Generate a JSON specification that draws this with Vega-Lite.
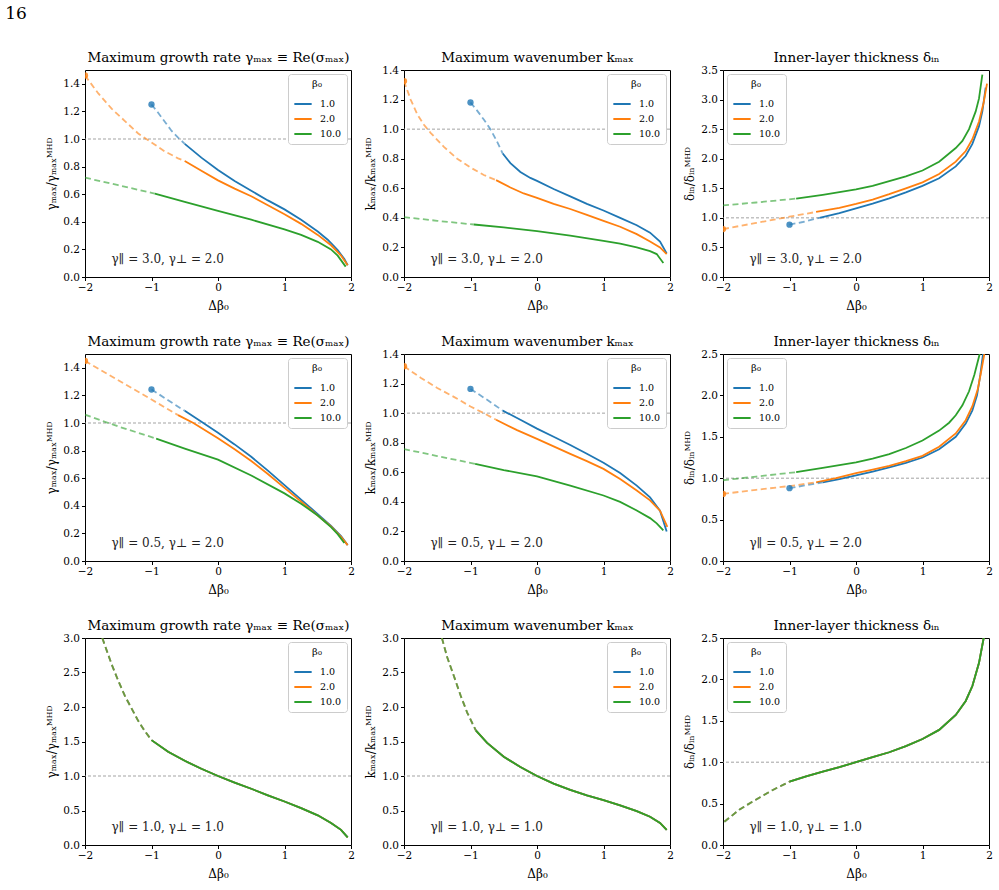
{
"$schema":"https://vega.github.io/schema/vega-lite/v6.json",
"padding":{"left":5,"top":5,"right":5,"bottom":5},
"background":"#ffffff",
"title":{"text":"16","anchor":"start","frame":"bounds","fontSize":17,"font":"DejaVu Serif","fontWeight":"normal","color":"#000","dx":-40,"offset":14,"baseline":"alphabetic"},
"datasets":{
"refs":[{"y":1}],
"dots":[
{"p":"11","b":"1.0","x":-1,"y":1.25},{"p":"11","b":"2.0","x":-2,"y":1.46},
{"p":"12","b":"1.0","x":-1,"y":1.18},{"p":"12","b":"2.0","x":-2,"y":1.325},
{"p":"13","b":"1.0","x":-1,"y":0.885},{"p":"13","b":"2.0","x":-2,"y":0.81},
{"p":"21","b":"1.0","x":-1,"y":1.243},{"p":"21","b":"2.0","x":-2,"y":1.45},
{"p":"22","b":"1.0","x":-1,"y":1.164},{"p":"22","b":"2.0","x":-2,"y":1.317},
{"p":"23","b":"1.0","x":-1,"y":0.88},{"p":"23","b":"2.0","x":-2,"y":0.81}
],
"curves":[
{"p":"11","b":"1.0","s":"d","x":-1,"y":1.25},{"p":"11","b":"1.0","s":"d","x":-0.9,"y":1.19},{"p":"11","b":"1.0","s":"d","x":-0.8,"y":1.125},{"p":"11","b":"1.0","s":"d","x":-0.7,"y":1.06},{"p":"11","b":"1.0","s":"d","x":-0.6,"y":1.01},{"p":"11","b":"1.0","s":"d","x":-0.5,"y":0.965},
{"p":"11","b":"1.0","s":"s","x":-0.5,"y":0.965},{"p":"11","b":"1.0","s":"s","x":-0.25,"y":0.865},{"p":"11","b":"1.0","s":"s","x":0,"y":0.775},{"p":"11","b":"1.0","s":"s","x":0.25,"y":0.695},{"p":"11","b":"1.0","s":"s","x":0.5,"y":0.625},{"p":"11","b":"1.0","s":"s","x":0.75,"y":0.555},{"p":"11","b":"1.0","s":"s","x":1,"y":0.49},{"p":"11","b":"1.0","s":"s","x":1.25,"y":0.415},{"p":"11","b":"1.0","s":"s","x":1.5,"y":0.33},{"p":"11","b":"1.0","s":"s","x":1.65,"y":0.27},{"p":"11","b":"1.0","s":"s","x":1.8,"y":0.195},{"p":"11","b":"1.0","s":"s","x":1.9,"y":0.13},{"p":"11","b":"1.0","s":"s","x":1.95,"y":0.085},
{"p":"11","b":"2.0","s":"d","x":-2,"y":1.46},{"p":"11","b":"2.0","s":"d","x":-1.8,"y":1.33},{"p":"11","b":"2.0","s":"d","x":-1.6,"y":1.22},{"p":"11","b":"2.0","s":"d","x":-1.4,"y":1.13},{"p":"11","b":"2.0","s":"d","x":-1.2,"y":1.04},{"p":"11","b":"2.0","s":"d","x":-1,"y":0.975},{"p":"11","b":"2.0","s":"d","x":-0.8,"y":0.91},{"p":"11","b":"2.0","s":"d","x":-0.6,"y":0.86},{"p":"11","b":"2.0","s":"d","x":-0.5,"y":0.84},
{"p":"11","b":"2.0","s":"s","x":-0.5,"y":0.84},{"p":"11","b":"2.0","s":"s","x":-0.25,"y":0.77},{"p":"11","b":"2.0","s":"s","x":0,"y":0.7},{"p":"11","b":"2.0","s":"s","x":0.25,"y":0.64},{"p":"11","b":"2.0","s":"s","x":0.5,"y":0.585},{"p":"11","b":"2.0","s":"s","x":0.75,"y":0.52},{"p":"11","b":"2.0","s":"s","x":1,"y":0.455},{"p":"11","b":"2.0","s":"s","x":1.25,"y":0.385},{"p":"11","b":"2.0","s":"s","x":1.5,"y":0.305},{"p":"11","b":"2.0","s":"s","x":1.7,"y":0.23},{"p":"11","b":"2.0","s":"s","x":1.85,"y":0.155},{"p":"11","b":"2.0","s":"s","x":1.95,"y":0.085},
{"p":"11","b":"10.0","s":"d","x":-2,"y":0.72},{"p":"11","b":"10.0","s":"d","x":-1.5,"y":0.665},{"p":"11","b":"10.0","s":"d","x":-1,"y":0.61},{"p":"11","b":"10.0","s":"d","x":-0.95,"y":0.605},
{"p":"11","b":"10.0","s":"s","x":-0.95,"y":0.605},{"p":"11","b":"10.0","s":"s","x":-0.5,"y":0.545},{"p":"11","b":"10.0","s":"s","x":0,"y":0.48},{"p":"11","b":"10.0","s":"s","x":0.5,"y":0.415},{"p":"11","b":"10.0","s":"s","x":1,"y":0.345},{"p":"11","b":"10.0","s":"s","x":1.25,"y":0.305},{"p":"11","b":"10.0","s":"s","x":1.5,"y":0.255},{"p":"11","b":"10.0","s":"s","x":1.7,"y":0.2},{"p":"11","b":"10.0","s":"s","x":1.8,"y":0.155},{"p":"11","b":"10.0","s":"s","x":1.92,"y":0.075},

{"p":"12","b":"1.0","s":"d","x":-1,"y":1.18},{"p":"12","b":"1.0","s":"d","x":-0.9,"y":1.125},{"p":"12","b":"1.0","s":"d","x":-0.8,"y":1.065},{"p":"12","b":"1.0","s":"d","x":-0.7,"y":1.0},{"p":"12","b":"1.0","s":"d","x":-0.6,"y":0.915},{"p":"12","b":"1.0","s":"d","x":-0.515,"y":0.835},
{"p":"12","b":"1.0","s":"s","x":-0.515,"y":0.835},{"p":"12","b":"1.0","s":"s","x":-0.4,"y":0.77},{"p":"12","b":"1.0","s":"s","x":-0.25,"y":0.71},{"p":"12","b":"1.0","s":"s","x":-0.1,"y":0.67},{"p":"12","b":"1.0","s":"s","x":0,"y":0.65},{"p":"12","b":"1.0","s":"s","x":0.25,"y":0.595},{"p":"12","b":"1.0","s":"s","x":0.5,"y":0.545},{"p":"12","b":"1.0","s":"s","x":0.75,"y":0.495},{"p":"12","b":"1.0","s":"s","x":1,"y":0.45},{"p":"12","b":"1.0","s":"s","x":1.25,"y":0.4},{"p":"12","b":"1.0","s":"s","x":1.5,"y":0.35},{"p":"12","b":"1.0","s":"s","x":1.7,"y":0.3},{"p":"12","b":"1.0","s":"s","x":1.85,"y":0.24},{"p":"12","b":"1.0","s":"s","x":1.95,"y":0.16},
{"p":"12","b":"2.0","s":"d","x":-2,"y":1.325},{"p":"12","b":"2.0","s":"d","x":-1.9,"y":1.2},{"p":"12","b":"2.0","s":"d","x":-1.8,"y":1.1},{"p":"12","b":"2.0","s":"d","x":-1.7,"y":1.03},{"p":"12","b":"2.0","s":"d","x":-1.6,"y":0.975},{"p":"12","b":"2.0","s":"d","x":-1.4,"y":0.88},{"p":"12","b":"2.0","s":"d","x":-1.2,"y":0.8},{"p":"12","b":"2.0","s":"d","x":-1,"y":0.74},{"p":"12","b":"2.0","s":"d","x":-0.8,"y":0.69},{"p":"12","b":"2.0","s":"d","x":-0.615,"y":0.655},
{"p":"12","b":"2.0","s":"s","x":-0.615,"y":0.655},{"p":"12","b":"2.0","s":"s","x":-0.4,"y":0.605},{"p":"12","b":"2.0","s":"s","x":-0.2,"y":0.565},{"p":"12","b":"2.0","s":"s","x":0,"y":0.535},{"p":"12","b":"2.0","s":"s","x":0.25,"y":0.495},{"p":"12","b":"2.0","s":"s","x":0.5,"y":0.46},{"p":"12","b":"2.0","s":"s","x":0.75,"y":0.42},{"p":"12","b":"2.0","s":"s","x":1,"y":0.38},{"p":"12","b":"2.0","s":"s","x":1.25,"y":0.34},{"p":"12","b":"2.0","s":"s","x":1.5,"y":0.29},{"p":"12","b":"2.0","s":"s","x":1.7,"y":0.24},{"p":"12","b":"2.0","s":"s","x":1.85,"y":0.2},{"p":"12","b":"2.0","s":"s","x":1.95,"y":0.155},
{"p":"12","b":"10.0","s":"d","x":-2,"y":0.405},{"p":"12","b":"10.0","s":"d","x":-1.5,"y":0.38},{"p":"12","b":"10.0","s":"d","x":-0.95,"y":0.355},
{"p":"12","b":"10.0","s":"s","x":-0.95,"y":0.355},{"p":"12","b":"10.0","s":"s","x":-0.5,"y":0.335},{"p":"12","b":"10.0","s":"s","x":0,"y":0.31},{"p":"12","b":"10.0","s":"s","x":0.5,"y":0.28},{"p":"12","b":"10.0","s":"s","x":1,"y":0.245},{"p":"12","b":"10.0","s":"s","x":1.25,"y":0.225},{"p":"12","b":"10.0","s":"s","x":1.5,"y":0.2},{"p":"12","b":"10.0","s":"s","x":1.7,"y":0.175},{"p":"12","b":"10.0","s":"s","x":1.8,"y":0.155},{"p":"12","b":"10.0","s":"s","x":1.9,"y":0.095},

{"p":"13","b":"1.0","s":"d","x":-1,"y":0.885},{"p":"13","b":"1.0","s":"d","x":-0.8,"y":0.93},{"p":"13","b":"1.0","s":"d","x":-0.55,"y":1.0},
{"p":"13","b":"1.0","s":"s","x":-0.55,"y":1.0},{"p":"13","b":"1.0","s":"s","x":-0.25,"y":1.08},{"p":"13","b":"1.0","s":"s","x":0,"y":1.16},{"p":"13","b":"1.0","s":"s","x":0.25,"y":1.24},{"p":"13","b":"1.0","s":"s","x":0.5,"y":1.33},{"p":"13","b":"1.0","s":"s","x":0.75,"y":1.43},{"p":"13","b":"1.0","s":"s","x":1,"y":1.54},{"p":"13","b":"1.0","s":"s","x":1.25,"y":1.67},{"p":"13","b":"1.0","s":"s","x":1.5,"y":1.87},{"p":"13","b":"1.0","s":"s","x":1.65,"y":2.05},{"p":"13","b":"1.0","s":"s","x":1.75,"y":2.25},{"p":"13","b":"1.0","s":"s","x":1.85,"y":2.55},{"p":"13","b":"1.0","s":"s","x":1.9,"y":2.8},{"p":"13","b":"1.0","s":"s","x":1.95,"y":3.2},
{"p":"13","b":"2.0","s":"d","x":-2,"y":0.81},{"p":"13","b":"2.0","s":"d","x":-1.5,"y":0.915},{"p":"13","b":"2.0","s":"d","x":-1,"y":1.02},{"p":"13","b":"2.0","s":"d","x":-0.6,"y":1.1},
{"p":"13","b":"2.0","s":"s","x":-0.6,"y":1.1},{"p":"13","b":"2.0","s":"s","x":-0.25,"y":1.17},{"p":"13","b":"2.0","s":"s","x":0,"y":1.235},{"p":"13","b":"2.0","s":"s","x":0.25,"y":1.31},{"p":"13","b":"2.0","s":"s","x":0.5,"y":1.4},{"p":"13","b":"2.0","s":"s","x":0.75,"y":1.5},{"p":"13","b":"2.0","s":"s","x":1,"y":1.6},{"p":"13","b":"2.0","s":"s","x":1.25,"y":1.74},{"p":"13","b":"2.0","s":"s","x":1.5,"y":1.95},{"p":"13","b":"2.0","s":"s","x":1.65,"y":2.13},{"p":"13","b":"2.0","s":"s","x":1.75,"y":2.33},{"p":"13","b":"2.0","s":"s","x":1.85,"y":2.63},{"p":"13","b":"2.0","s":"s","x":1.92,"y":2.95},{"p":"13","b":"2.0","s":"s","x":1.97,"y":3.27},
{"p":"13","b":"10.0","s":"d","x":-2,"y":1.21},{"p":"13","b":"10.0","s":"d","x":-1.5,"y":1.26},{"p":"13","b":"10.0","s":"d","x":-0.9,"y":1.325},
{"p":"13","b":"10.0","s":"s","x":-0.9,"y":1.325},{"p":"13","b":"10.0","s":"s","x":-0.5,"y":1.39},{"p":"13","b":"10.0","s":"s","x":0,"y":1.48},{"p":"13","b":"10.0","s":"s","x":0.25,"y":1.54},{"p":"13","b":"10.0","s":"s","x":0.5,"y":1.62},{"p":"13","b":"10.0","s":"s","x":0.75,"y":1.7},{"p":"13","b":"10.0","s":"s","x":1,"y":1.8},{"p":"13","b":"10.0","s":"s","x":1.25,"y":1.95},{"p":"13","b":"10.0","s":"s","x":1.5,"y":2.18},{"p":"13","b":"10.0","s":"s","x":1.6,"y":2.3},{"p":"13","b":"10.0","s":"s","x":1.7,"y":2.5},{"p":"13","b":"10.0","s":"s","x":1.8,"y":2.8},{"p":"13","b":"10.0","s":"s","x":1.85,"y":3.02},{"p":"13","b":"10.0","s":"s","x":1.9,"y":3.42},

{"p":"21","b":"1.0","s":"d","x":-1,"y":1.243},{"p":"21","b":"1.0","s":"d","x":-0.75,"y":1.165},{"p":"21","b":"1.0","s":"d","x":-0.5,"y":1.088},
{"p":"21","b":"1.0","s":"s","x":-0.5,"y":1.088},{"p":"21","b":"1.0","s":"s","x":-0.22,"y":1.0},{"p":"21","b":"1.0","s":"s","x":0,"y":0.93},{"p":"21","b":"1.0","s":"s","x":0.25,"y":0.845},{"p":"21","b":"1.0","s":"s","x":0.5,"y":0.755},{"p":"21","b":"1.0","s":"s","x":0.75,"y":0.655},{"p":"21","b":"1.0","s":"s","x":1,"y":0.55},{"p":"21","b":"1.0","s":"s","x":1.25,"y":0.445},{"p":"21","b":"1.0","s":"s","x":1.5,"y":0.34},{"p":"21","b":"1.0","s":"s","x":1.7,"y":0.255},{"p":"21","b":"1.0","s":"s","x":1.85,"y":0.18},{"p":"21","b":"1.0","s":"s","x":1.95,"y":0.115},
{"p":"21","b":"2.0","s":"d","x":-2,"y":1.45},{"p":"21","b":"2.0","s":"d","x":-1.5,"y":1.31},{"p":"21","b":"2.0","s":"d","x":-1,"y":1.17},{"p":"21","b":"2.0","s":"d","x":-0.6,"y":1.057},
{"p":"21","b":"2.0","s":"s","x":-0.6,"y":1.057},{"p":"21","b":"2.0","s":"s","x":-0.37,"y":1.0},{"p":"21","b":"2.0","s":"s","x":0,"y":0.89},{"p":"21","b":"2.0","s":"s","x":0.25,"y":0.81},{"p":"21","b":"2.0","s":"s","x":0.5,"y":0.725},{"p":"21","b":"2.0","s":"s","x":0.75,"y":0.63},{"p":"21","b":"2.0","s":"s","x":1,"y":0.53},{"p":"21","b":"2.0","s":"s","x":1.25,"y":0.43},{"p":"21","b":"2.0","s":"s","x":1.5,"y":0.33},{"p":"21","b":"2.0","s":"s","x":1.7,"y":0.25},{"p":"21","b":"2.0","s":"s","x":1.85,"y":0.175},{"p":"21","b":"2.0","s":"s","x":1.95,"y":0.115},
{"p":"21","b":"10.0","s":"d","x":-2,"y":1.06},{"p":"21","b":"10.0","s":"d","x":-1.5,"y":0.975},{"p":"21","b":"10.0","s":"d","x":-0.93,"y":0.887},
{"p":"21","b":"10.0","s":"s","x":-0.93,"y":0.887},{"p":"21","b":"10.0","s":"s","x":-0.5,"y":0.815},{"p":"21","b":"10.0","s":"s","x":0,"y":0.735},{"p":"21","b":"10.0","s":"s","x":0.5,"y":0.62},{"p":"21","b":"10.0","s":"s","x":1,"y":0.49},{"p":"21","b":"10.0","s":"s","x":1.25,"y":0.415},{"p":"21","b":"10.0","s":"s","x":1.5,"y":0.33},{"p":"21","b":"10.0","s":"s","x":1.7,"y":0.245},{"p":"21","b":"10.0","s":"s","x":1.8,"y":0.195},{"p":"21","b":"10.0","s":"s","x":1.9,"y":0.13},

{"p":"22","b":"1.0","s":"d","x":-1,"y":1.164},{"p":"22","b":"1.0","s":"d","x":-0.75,"y":1.09},{"p":"22","b":"1.0","s":"d","x":-0.515,"y":1.017},
{"p":"22","b":"1.0","s":"s","x":-0.515,"y":1.017},{"p":"22","b":"1.0","s":"s","x":-0.25,"y":0.955},{"p":"22","b":"1.0","s":"s","x":0,"y":0.895},{"p":"22","b":"1.0","s":"s","x":0.25,"y":0.84},{"p":"22","b":"1.0","s":"s","x":0.5,"y":0.785},{"p":"22","b":"1.0","s":"s","x":0.75,"y":0.725},{"p":"22","b":"1.0","s":"s","x":1,"y":0.665},{"p":"22","b":"1.0","s":"s","x":1.25,"y":0.595},{"p":"22","b":"1.0","s":"s","x":1.5,"y":0.51},{"p":"22","b":"1.0","s":"s","x":1.7,"y":0.43},{"p":"22","b":"1.0","s":"s","x":1.85,"y":0.34},{"p":"22","b":"1.0","s":"s","x":1.95,"y":0.2},
{"p":"22","b":"2.0","s":"d","x":-2,"y":1.317},{"p":"22","b":"2.0","s":"d","x":-1.75,"y":1.24},{"p":"22","b":"2.0","s":"d","x":-1.5,"y":1.17},{"p":"22","b":"2.0","s":"d","x":-1.25,"y":1.11},{"p":"22","b":"2.0","s":"d","x":-1,"y":1.045},{"p":"22","b":"2.0","s":"d","x":-0.8,"y":1.0},{"p":"22","b":"2.0","s":"d","x":-0.615,"y":0.955},
{"p":"22","b":"2.0","s":"s","x":-0.615,"y":0.955},{"p":"22","b":"2.0","s":"s","x":-0.3,"y":0.885},{"p":"22","b":"2.0","s":"s","x":0,"y":0.826},{"p":"22","b":"2.0","s":"s","x":0.25,"y":0.775},{"p":"22","b":"2.0","s":"s","x":0.5,"y":0.725},{"p":"22","b":"2.0","s":"s","x":0.75,"y":0.675},{"p":"22","b":"2.0","s":"s","x":1,"y":0.623},{"p":"22","b":"2.0","s":"s","x":1.25,"y":0.555},{"p":"22","b":"2.0","s":"s","x":1.5,"y":0.477},{"p":"22","b":"2.0","s":"s","x":1.7,"y":0.41},{"p":"22","b":"2.0","s":"s","x":1.85,"y":0.34},{"p":"22","b":"2.0","s":"s","x":1.96,"y":0.23},
{"p":"22","b":"10.0","s":"d","x":-2,"y":0.757},{"p":"22","b":"10.0","s":"d","x":-1.5,"y":0.71},{"p":"22","b":"10.0","s":"d","x":-0.93,"y":0.657},
{"p":"22","b":"10.0","s":"s","x":-0.93,"y":0.657},{"p":"22","b":"10.0","s":"s","x":-0.5,"y":0.615},{"p":"22","b":"10.0","s":"s","x":0,"y":0.572},{"p":"22","b":"10.0","s":"s","x":0.5,"y":0.51},{"p":"22","b":"10.0","s":"s","x":1,"y":0.443},{"p":"22","b":"10.0","s":"s","x":1.25,"y":0.4},{"p":"22","b":"10.0","s":"s","x":1.5,"y":0.342},{"p":"22","b":"10.0","s":"s","x":1.7,"y":0.29},{"p":"22","b":"10.0","s":"s","x":1.8,"y":0.255},{"p":"22","b":"10.0","s":"s","x":1.9,"y":0.207},

{"p":"23","b":"1.0","s":"d","x":-1,"y":0.88},{"p":"23","b":"1.0","s":"d","x":-0.75,"y":0.915},{"p":"23","b":"1.0","s":"d","x":-0.5,"y":0.95},
{"p":"23","b":"1.0","s":"s","x":-0.5,"y":0.95},{"p":"23","b":"1.0","s":"s","x":-0.25,"y":0.99},{"p":"23","b":"1.0","s":"s","x":0,"y":1.035},{"p":"23","b":"1.0","s":"s","x":0.25,"y":1.08},{"p":"23","b":"1.0","s":"s","x":0.5,"y":1.13},{"p":"23","b":"1.0","s":"s","x":0.75,"y":1.185},{"p":"23","b":"1.0","s":"s","x":1,"y":1.25},{"p":"23","b":"1.0","s":"s","x":1.25,"y":1.35},{"p":"23","b":"1.0","s":"s","x":1.5,"y":1.5},{"p":"23","b":"1.0","s":"s","x":1.65,"y":1.66},{"p":"23","b":"1.0","s":"s","x":1.75,"y":1.82},{"p":"23","b":"1.0","s":"s","x":1.82,"y":2.0},{"p":"23","b":"1.0","s":"s","x":1.87,"y":2.25},{"p":"23","b":"1.0","s":"s","x":1.91,"y":2.5},
{"p":"23","b":"2.0","s":"d","x":-2,"y":0.81},{"p":"23","b":"2.0","s":"d","x":-1.5,"y":0.86},{"p":"23","b":"2.0","s":"d","x":-1,"y":0.905},{"p":"23","b":"2.0","s":"d","x":-0.6,"y":0.95},
{"p":"23","b":"2.0","s":"s","x":-0.6,"y":0.95},{"p":"23","b":"2.0","s":"s","x":-0.3,"y":1.0},{"p":"23","b":"2.0","s":"s","x":0,"y":1.06},{"p":"23","b":"2.0","s":"s","x":0.25,"y":1.105},{"p":"23","b":"2.0","s":"s","x":0.5,"y":1.15},{"p":"23","b":"2.0","s":"s","x":0.75,"y":1.205},{"p":"23","b":"2.0","s":"s","x":1,"y":1.27},{"p":"23","b":"2.0","s":"s","x":1.25,"y":1.38},{"p":"23","b":"2.0","s":"s","x":1.5,"y":1.54},{"p":"23","b":"2.0","s":"s","x":1.65,"y":1.7},{"p":"23","b":"2.0","s":"s","x":1.75,"y":1.87},{"p":"23","b":"2.0","s":"s","x":1.83,"y":2.07},{"p":"23","b":"2.0","s":"s","x":1.88,"y":2.28},{"p":"23","b":"2.0","s":"s","x":1.93,"y":2.5},
{"p":"23","b":"10.0","s":"d","x":-2,"y":0.975},{"p":"23","b":"10.0","s":"d","x":-1.5,"y":1.02},{"p":"23","b":"10.0","s":"d","x":-0.9,"y":1.073},
{"p":"23","b":"10.0","s":"s","x":-0.9,"y":1.073},{"p":"23","b":"10.0","s":"s","x":-0.5,"y":1.125},{"p":"23","b":"10.0","s":"s","x":0,"y":1.19},{"p":"23","b":"10.0","s":"s","x":0.25,"y":1.235},{"p":"23","b":"10.0","s":"s","x":0.5,"y":1.29},{"p":"23","b":"10.0","s":"s","x":0.75,"y":1.365},{"p":"23","b":"10.0","s":"s","x":1,"y":1.455},{"p":"23","b":"10.0","s":"s","x":1.25,"y":1.575},{"p":"23","b":"10.0","s":"s","x":1.4,"y":1.67},{"p":"23","b":"10.0","s":"s","x":1.5,"y":1.76},{"p":"23","b":"10.0","s":"s","x":1.6,"y":1.88},{"p":"23","b":"10.0","s":"s","x":1.7,"y":2.05},{"p":"23","b":"10.0","s":"s","x":1.78,"y":2.25},{"p":"23","b":"10.0","s":"s","x":1.86,"y":2.5},

{"p":"31","b":"1.0","s":"d","x":-1.74,"y":3.0},{"p":"31","b":"1.0","s":"d","x":-1.6,"y":2.62},{"p":"31","b":"1.0","s":"d","x":-1.5,"y":2.38},{"p":"31","b":"1.0","s":"d","x":-1.4,"y":2.16},{"p":"31","b":"1.0","s":"d","x":-1.3,"y":1.98},{"p":"31","b":"1.0","s":"d","x":-1.2,"y":1.8},{"p":"31","b":"1.0","s":"d","x":-1.1,"y":1.65},{"p":"31","b":"1.0","s":"d","x":-1,"y":1.52},
{"p":"31","b":"1.0","s":"s","x":-1,"y":1.52},{"p":"31","b":"1.0","s":"s","x":-0.75,"y":1.35},{"p":"31","b":"1.0","s":"s","x":-0.5,"y":1.22},{"p":"31","b":"1.0","s":"s","x":-0.25,"y":1.105},{"p":"31","b":"1.0","s":"s","x":0,"y":1.0},{"p":"31","b":"1.0","s":"s","x":0.25,"y":0.905},{"p":"31","b":"1.0","s":"s","x":0.5,"y":0.815},{"p":"31","b":"1.0","s":"s","x":0.75,"y":0.72},{"p":"31","b":"1.0","s":"s","x":1,"y":0.63},{"p":"31","b":"1.0","s":"s","x":1.25,"y":0.535},{"p":"31","b":"1.0","s":"s","x":1.5,"y":0.43},{"p":"31","b":"1.0","s":"s","x":1.7,"y":0.32},{"p":"31","b":"1.0","s":"s","x":1.85,"y":0.22},{"p":"31","b":"1.0","s":"s","x":1.95,"y":0.11},
{"p":"31","b":"2.0","s":"d","x":-1.74,"y":3.0},{"p":"31","b":"2.0","s":"d","x":-1.6,"y":2.62},{"p":"31","b":"2.0","s":"d","x":-1.5,"y":2.38},{"p":"31","b":"2.0","s":"d","x":-1.4,"y":2.16},{"p":"31","b":"2.0","s":"d","x":-1.3,"y":1.98},{"p":"31","b":"2.0","s":"d","x":-1.2,"y":1.8},{"p":"31","b":"2.0","s":"d","x":-1.1,"y":1.65},{"p":"31","b":"2.0","s":"d","x":-1,"y":1.52},
{"p":"31","b":"2.0","s":"s","x":-1,"y":1.52},{"p":"31","b":"2.0","s":"s","x":-0.75,"y":1.35},{"p":"31","b":"2.0","s":"s","x":-0.5,"y":1.22},{"p":"31","b":"2.0","s":"s","x":-0.25,"y":1.105},{"p":"31","b":"2.0","s":"s","x":0,"y":1.0},{"p":"31","b":"2.0","s":"s","x":0.25,"y":0.905},{"p":"31","b":"2.0","s":"s","x":0.5,"y":0.815},{"p":"31","b":"2.0","s":"s","x":0.75,"y":0.72},{"p":"31","b":"2.0","s":"s","x":1,"y":0.63},{"p":"31","b":"2.0","s":"s","x":1.25,"y":0.535},{"p":"31","b":"2.0","s":"s","x":1.5,"y":0.43},{"p":"31","b":"2.0","s":"s","x":1.7,"y":0.32},{"p":"31","b":"2.0","s":"s","x":1.85,"y":0.22},{"p":"31","b":"2.0","s":"s","x":1.95,"y":0.11},
{"p":"31","b":"10.0","s":"d","x":-1.74,"y":3.0},{"p":"31","b":"10.0","s":"d","x":-1.6,"y":2.62},{"p":"31","b":"10.0","s":"d","x":-1.5,"y":2.38},{"p":"31","b":"10.0","s":"d","x":-1.4,"y":2.16},{"p":"31","b":"10.0","s":"d","x":-1.3,"y":1.98},{"p":"31","b":"10.0","s":"d","x":-1.2,"y":1.8},{"p":"31","b":"10.0","s":"d","x":-1.1,"y":1.65},{"p":"31","b":"10.0","s":"d","x":-1,"y":1.52},
{"p":"31","b":"10.0","s":"s","x":-1,"y":1.52},{"p":"31","b":"10.0","s":"s","x":-0.75,"y":1.35},{"p":"31","b":"10.0","s":"s","x":-0.5,"y":1.22},{"p":"31","b":"10.0","s":"s","x":-0.25,"y":1.105},{"p":"31","b":"10.0","s":"s","x":0,"y":1.0},{"p":"31","b":"10.0","s":"s","x":0.25,"y":0.905},{"p":"31","b":"10.0","s":"s","x":0.5,"y":0.815},{"p":"31","b":"10.0","s":"s","x":0.75,"y":0.72},{"p":"31","b":"10.0","s":"s","x":1,"y":0.63},{"p":"31","b":"10.0","s":"s","x":1.25,"y":0.535},{"p":"31","b":"10.0","s":"s","x":1.5,"y":0.43},{"p":"31","b":"10.0","s":"s","x":1.7,"y":0.32},{"p":"31","b":"10.0","s":"s","x":1.85,"y":0.22},{"p":"31","b":"10.0","s":"s","x":1.95,"y":0.11},

{"p":"32","b":"1.0","s":"d","x":-1.43,"y":3.0},{"p":"32","b":"1.0","s":"d","x":-1.35,"y":2.72},{"p":"32","b":"1.0","s":"d","x":-1.25,"y":2.45},{"p":"32","b":"1.0","s":"d","x":-1.15,"y":2.17},{"p":"32","b":"1.0","s":"d","x":-1.05,"y":1.92},{"p":"32","b":"1.0","s":"d","x":-0.92,"y":1.66},
{"p":"32","b":"1.0","s":"s","x":-0.92,"y":1.66},{"p":"32","b":"1.0","s":"s","x":-0.75,"y":1.48},{"p":"32","b":"1.0","s":"s","x":-0.5,"y":1.28},{"p":"32","b":"1.0","s":"s","x":-0.25,"y":1.13},{"p":"32","b":"1.0","s":"s","x":0,"y":1.0},{"p":"32","b":"1.0","s":"s","x":0.25,"y":0.89},{"p":"32","b":"1.0","s":"s","x":0.5,"y":0.8},{"p":"32","b":"1.0","s":"s","x":0.75,"y":0.72},{"p":"32","b":"1.0","s":"s","x":1,"y":0.65},{"p":"32","b":"1.0","s":"s","x":1.25,"y":0.575},{"p":"32","b":"1.0","s":"s","x":1.5,"y":0.49},{"p":"32","b":"1.0","s":"s","x":1.7,"y":0.41},{"p":"32","b":"1.0","s":"s","x":1.85,"y":0.32},{"p":"32","b":"1.0","s":"s","x":1.95,"y":0.22},
{"p":"32","b":"2.0","s":"d","x":-1.43,"y":3.0},{"p":"32","b":"2.0","s":"d","x":-1.35,"y":2.72},{"p":"32","b":"2.0","s":"d","x":-1.25,"y":2.45},{"p":"32","b":"2.0","s":"d","x":-1.15,"y":2.17},{"p":"32","b":"2.0","s":"d","x":-1.05,"y":1.92},{"p":"32","b":"2.0","s":"d","x":-0.92,"y":1.66},
{"p":"32","b":"2.0","s":"s","x":-0.92,"y":1.66},{"p":"32","b":"2.0","s":"s","x":-0.75,"y":1.48},{"p":"32","b":"2.0","s":"s","x":-0.5,"y":1.28},{"p":"32","b":"2.0","s":"s","x":-0.25,"y":1.13},{"p":"32","b":"2.0","s":"s","x":0,"y":1.0},{"p":"32","b":"2.0","s":"s","x":0.25,"y":0.89},{"p":"32","b":"2.0","s":"s","x":0.5,"y":0.8},{"p":"32","b":"2.0","s":"s","x":0.75,"y":0.72},{"p":"32","b":"2.0","s":"s","x":1,"y":0.65},{"p":"32","b":"2.0","s":"s","x":1.25,"y":0.575},{"p":"32","b":"2.0","s":"s","x":1.5,"y":0.49},{"p":"32","b":"2.0","s":"s","x":1.7,"y":0.41},{"p":"32","b":"2.0","s":"s","x":1.85,"y":0.32},{"p":"32","b":"2.0","s":"s","x":1.95,"y":0.22},
{"p":"32","b":"10.0","s":"d","x":-1.43,"y":3.0},{"p":"32","b":"10.0","s":"d","x":-1.35,"y":2.72},{"p":"32","b":"10.0","s":"d","x":-1.25,"y":2.45},{"p":"32","b":"10.0","s":"d","x":-1.15,"y":2.17},{"p":"32","b":"10.0","s":"d","x":-1.05,"y":1.92},{"p":"32","b":"10.0","s":"d","x":-0.92,"y":1.66},
{"p":"32","b":"10.0","s":"s","x":-0.92,"y":1.66},{"p":"32","b":"10.0","s":"s","x":-0.75,"y":1.48},{"p":"32","b":"10.0","s":"s","x":-0.5,"y":1.28},{"p":"32","b":"10.0","s":"s","x":-0.25,"y":1.13},{"p":"32","b":"10.0","s":"s","x":0,"y":1.0},{"p":"32","b":"10.0","s":"s","x":0.25,"y":0.89},{"p":"32","b":"10.0","s":"s","x":0.5,"y":0.8},{"p":"32","b":"10.0","s":"s","x":0.75,"y":0.72},{"p":"32","b":"10.0","s":"s","x":1,"y":0.65},{"p":"32","b":"10.0","s":"s","x":1.25,"y":0.575},{"p":"32","b":"10.0","s":"s","x":1.5,"y":0.49},{"p":"32","b":"10.0","s":"s","x":1.7,"y":0.41},{"p":"32","b":"10.0","s":"s","x":1.85,"y":0.32},{"p":"32","b":"10.0","s":"s","x":1.95,"y":0.22},

{"p":"33","b":"1.0","s":"d","x":-1.98,"y":0.28},{"p":"33","b":"1.0","s":"d","x":-1.75,"y":0.43},{"p":"33","b":"1.0","s":"d","x":-1.5,"y":0.55},{"p":"33","b":"1.0","s":"d","x":-1.25,"y":0.665},{"p":"33","b":"1.0","s":"d","x":-1,"y":0.765},
{"p":"33","b":"1.0","s":"s","x":-1,"y":0.765},{"p":"33","b":"1.0","s":"s","x":-0.75,"y":0.83},{"p":"33","b":"1.0","s":"s","x":-0.5,"y":0.885},{"p":"33","b":"1.0","s":"s","x":-0.25,"y":0.94},{"p":"33","b":"1.0","s":"s","x":0,"y":1.0},{"p":"33","b":"1.0","s":"s","x":0.25,"y":1.06},{"p":"33","b":"1.0","s":"s","x":0.5,"y":1.12},{"p":"33","b":"1.0","s":"s","x":0.75,"y":1.195},{"p":"33","b":"1.0","s":"s","x":1,"y":1.28},{"p":"33","b":"1.0","s":"s","x":1.25,"y":1.39},{"p":"33","b":"1.0","s":"s","x":1.5,"y":1.57},{"p":"33","b":"1.0","s":"s","x":1.65,"y":1.74},{"p":"33","b":"1.0","s":"s","x":1.75,"y":1.92},{"p":"33","b":"1.0","s":"s","x":1.85,"y":2.2},{"p":"33","b":"1.0","s":"s","x":1.92,"y":2.5},
{"p":"33","b":"2.0","s":"d","x":-1.98,"y":0.28},{"p":"33","b":"2.0","s":"d","x":-1.75,"y":0.43},{"p":"33","b":"2.0","s":"d","x":-1.5,"y":0.55},{"p":"33","b":"2.0","s":"d","x":-1.25,"y":0.665},{"p":"33","b":"2.0","s":"d","x":-1,"y":0.765},
{"p":"33","b":"2.0","s":"s","x":-1,"y":0.765},{"p":"33","b":"2.0","s":"s","x":-0.75,"y":0.83},{"p":"33","b":"2.0","s":"s","x":-0.5,"y":0.885},{"p":"33","b":"2.0","s":"s","x":-0.25,"y":0.94},{"p":"33","b":"2.0","s":"s","x":0,"y":1.0},{"p":"33","b":"2.0","s":"s","x":0.25,"y":1.06},{"p":"33","b":"2.0","s":"s","x":0.5,"y":1.12},{"p":"33","b":"2.0","s":"s","x":0.75,"y":1.195},{"p":"33","b":"2.0","s":"s","x":1,"y":1.28},{"p":"33","b":"2.0","s":"s","x":1.25,"y":1.39},{"p":"33","b":"2.0","s":"s","x":1.5,"y":1.57},{"p":"33","b":"2.0","s":"s","x":1.65,"y":1.74},{"p":"33","b":"2.0","s":"s","x":1.75,"y":1.92},{"p":"33","b":"2.0","s":"s","x":1.85,"y":2.2},{"p":"33","b":"2.0","s":"s","x":1.92,"y":2.5},
{"p":"33","b":"10.0","s":"d","x":-1.98,"y":0.28},{"p":"33","b":"10.0","s":"d","x":-1.75,"y":0.43},{"p":"33","b":"10.0","s":"d","x":-1.5,"y":0.55},{"p":"33","b":"10.0","s":"d","x":-1.25,"y":0.665},{"p":"33","b":"10.0","s":"d","x":-1,"y":0.765},
{"p":"33","b":"10.0","s":"s","x":-1,"y":0.765},{"p":"33","b":"10.0","s":"s","x":-0.75,"y":0.83},{"p":"33","b":"10.0","s":"s","x":-0.5,"y":0.885},{"p":"33","b":"10.0","s":"s","x":-0.25,"y":0.94},{"p":"33","b":"10.0","s":"s","x":0,"y":1.0},{"p":"33","b":"10.0","s":"s","x":0.25,"y":1.06},{"p":"33","b":"10.0","s":"s","x":0.5,"y":1.12},{"p":"33","b":"10.0","s":"s","x":0.75,"y":1.195},{"p":"33","b":"10.0","s":"s","x":1,"y":1.28},{"p":"33","b":"10.0","s":"s","x":1.25,"y":1.39},{"p":"33","b":"10.0","s":"s","x":1.5,"y":1.57},{"p":"33","b":"10.0","s":"s","x":1.65,"y":1.74},{"p":"33","b":"10.0","s":"s","x":1.75,"y":1.92},{"p":"33","b":"10.0","s":"s","x":1.85,"y":2.2},{"p":"33","b":"10.0","s":"s","x":1.92,"y":2.5}
]
},
"columns":3,
"spacing":{"row":77,"column":53},
"bounds":"flush",
"align":"all",
"resolve":{"scale":{"x":"independent","y":"independent","color":"independent","fill":"independent"},"legend":{"color":"independent"}},
"concat":[
{"width":266,"height":207,"resolve":{"axis":{"x":"independent"}},"layer":[
{"data":{"name":"refs"},"mark":{"type":"rule","color":"#999999","strokeDash":[3,2],"strokeWidth":0.9},"encoding":{"y":{"field":"y","type":"quantitative","scale":{"domain":[0,1.5],"nice":false},"axis":{"values":[0,0.2,0.4,0.6,0.8,1,1.2,1.4],"format":".1f","title":"γₘₐₓ/γₘₐₓᴹᴴᴰ","labelOverlap":false,"tickCount":20}}}},
{"data":{"name":"curves"},"transform":[{"filter":"datum.p=='11'&&datum.s=='s'"}],"mark":{"type":"line","strokeWidth":1.8,"clip":true},"encoding":{"x":{"field":"x","type":"quantitative","scale":{"domain":[-2,2],"nice":false},"axis":{"values":[-2,-1,0,1,2],"format":"d","title":"Δβ₀","tickCount":20}},"y":{"field":"y","type":"quantitative"},"color":{"field":"b","type":"nominal","scale":{"domain":["1.0","2.0","10.0"],"range":["#1f77b4","#ff7f0e","#2ca02c"]},"legend":{"title":"β₀","orient":"top-right"}}}},
{"data":{"name":"curves"},"transform":[{"filter":"datum.p=='11'&&datum.s=='d'"}],"mark":{"type":"line","strokeWidth":1.8,"opacity":0.6,"strokeDash":[6,3.5],"clip":true},"encoding":{"x":{"field":"x","type":"quantitative","axis":{"orient":"top","title":"Maximum growth rate γₘₐₓ ≡ Re(σₘₐₓ)","labels":false,"ticks":false,"domain":false,"titleFontSize":13.5,"titlePadding":8.5,"titleBaseline":"alphabetic"}},"y":{"field":"y","type":"quantitative"},"color":{"field":"b","type":"nominal"}}},
{"data":{"name":"dots"},"transform":[{"filter":"datum.p=='11'"}],"mark":{"type":"circle","size":40,"opacity":0.8,"clip":true},"encoding":{"x":{"field":"x","type":"quantitative","axis":null},"y":{"field":"y","type":"quantitative"},"fill":{"field":"b","type":"nominal","scale":{"domain":["1.0","2.0","10.0"],"range":["#1f77b4","#ff7f0e","#2ca02c"]},"legend":null}}},
{"data":{"name":"refs"},"mark":{"type":"text","align":"left","baseline":"alphabetic","fontSize":12,"color":"#222"},"encoding":{"x":{"datum":-1.6,"axis":null},"y":{"datum":0.104},"text":{"value":"γ∥ = 3.0, γ⊥ = 2.0"}}}
]},
{"width":266,"height":207,"resolve":{"axis":{"x":"independent"}},"layer":[
{"data":{"name":"refs"},"mark":{"type":"rule","color":"#999999","strokeDash":[3,2],"strokeWidth":0.9},"encoding":{"y":{"field":"y","type":"quantitative","scale":{"domain":[0,1.4],"nice":false},"axis":{"values":[0,0.2,0.4,0.6,0.8,1,1.2,1.4],"format":".1f","title":"kₘₐₓ/kₘₐₓᴹᴴᴰ","labelOverlap":false,"tickCount":20}}}},
{"data":{"name":"curves"},"transform":[{"filter":"datum.p=='12'&&datum.s=='s'"}],"mark":{"type":"line","strokeWidth":1.8,"clip":true},"encoding":{"x":{"field":"x","type":"quantitative","scale":{"domain":[-2,2],"nice":false},"axis":{"values":[-2,-1,0,1,2],"format":"d","title":"Δβ₀","tickCount":20}},"y":{"field":"y","type":"quantitative"},"color":{"field":"b","type":"nominal","scale":{"domain":["1.0","2.0","10.0"],"range":["#1f77b4","#ff7f0e","#2ca02c"]},"legend":{"title":"β₀","orient":"top-right"}}}},
{"data":{"name":"curves"},"transform":[{"filter":"datum.p=='12'&&datum.s=='d'"}],"mark":{"type":"line","strokeWidth":1.8,"opacity":0.6,"strokeDash":[6,3.5],"clip":true},"encoding":{"x":{"field":"x","type":"quantitative","axis":{"orient":"top","title":"Maximum wavenumber kₘₐₓ","labels":false,"ticks":false,"domain":false,"titleFontSize":13.5,"titlePadding":8.5,"titleBaseline":"alphabetic"}},"y":{"field":"y","type":"quantitative"},"color":{"field":"b","type":"nominal"}}},
{"data":{"name":"dots"},"transform":[{"filter":"datum.p=='12'"}],"mark":{"type":"circle","size":40,"opacity":0.8,"clip":true},"encoding":{"x":{"field":"x","type":"quantitative","axis":null},"y":{"field":"y","type":"quantitative"},"fill":{"field":"b","type":"nominal","scale":{"domain":["1.0","2.0","10.0"],"range":["#1f77b4","#ff7f0e","#2ca02c"]},"legend":null}}},
{"data":{"name":"refs"},"mark":{"type":"text","align":"left","baseline":"alphabetic","fontSize":12,"color":"#222"},"encoding":{"x":{"datum":-1.6,"axis":null},"y":{"datum":0.097},"text":{"value":"γ∥ = 3.0, γ⊥ = 2.0"}}}
]},
{"width":266,"height":207,"resolve":{"axis":{"x":"independent"}},"layer":[
{"data":{"name":"refs"},"mark":{"type":"rule","color":"#999999","strokeDash":[3,2],"strokeWidth":0.9},"encoding":{"y":{"field":"y","type":"quantitative","scale":{"domain":[0,3.5],"nice":false},"axis":{"values":[0,0.5,1,1.5,2,2.5,3,3.5],"format":".1f","title":"δᵢₙ/δᵢₙᴹᴴᴰ","labelOverlap":false,"tickCount":20}}}},
{"data":{"name":"curves"},"transform":[{"filter":"datum.p=='13'&&datum.s=='s'"}],"mark":{"type":"line","strokeWidth":1.8,"clip":true},"encoding":{"x":{"field":"x","type":"quantitative","scale":{"domain":[-2,2],"nice":false},"axis":{"values":[-2,-1,0,1,2],"format":"d","title":"Δβ₀","tickCount":20}},"y":{"field":"y","type":"quantitative"},"color":{"field":"b","type":"nominal","scale":{"domain":["1.0","2.0","10.0"],"range":["#1f77b4","#ff7f0e","#2ca02c"]},"legend":{"title":"β₀","orient":"top-left"}}}},
{"data":{"name":"curves"},"transform":[{"filter":"datum.p=='13'&&datum.s=='d'"}],"mark":{"type":"line","strokeWidth":1.8,"opacity":0.6,"strokeDash":[6,3.5],"clip":true},"encoding":{"x":{"field":"x","type":"quantitative","axis":{"orient":"top","title":"Inner-layer thickness δᵢₙ","labels":false,"ticks":false,"domain":false,"titleFontSize":13.5,"titlePadding":8.5,"titleBaseline":"alphabetic"}},"y":{"field":"y","type":"quantitative"},"color":{"field":"b","type":"nominal"}}},
{"data":{"name":"dots"},"transform":[{"filter":"datum.p=='13'"}],"mark":{"type":"circle","size":40,"opacity":0.8,"clip":true},"encoding":{"x":{"field":"x","type":"quantitative","axis":null},"y":{"field":"y","type":"quantitative"},"fill":{"field":"b","type":"nominal","scale":{"domain":["1.0","2.0","10.0"],"range":["#1f77b4","#ff7f0e","#2ca02c"]},"legend":null}}},
{"data":{"name":"refs"},"mark":{"type":"text","align":"left","baseline":"alphabetic","fontSize":12,"color":"#222"},"encoding":{"x":{"datum":-1.6,"axis":null},"y":{"datum":0.242},"text":{"value":"γ∥ = 3.0, γ⊥ = 2.0"}}}
]},
{"width":266,"height":207,"resolve":{"axis":{"x":"independent"}},"layer":[
{"data":{"name":"refs"},"mark":{"type":"rule","color":"#999999","strokeDash":[3,2],"strokeWidth":0.9},"encoding":{"y":{"field":"y","type":"quantitative","scale":{"domain":[0,1.5],"nice":false},"axis":{"values":[0,0.2,0.4,0.6,0.8,1,1.2,1.4],"format":".1f","title":"γₘₐₓ/γₘₐₓᴹᴴᴰ","labelOverlap":false,"tickCount":20}}}},
{"data":{"name":"curves"},"transform":[{"filter":"datum.p=='21'&&datum.s=='s'"}],"mark":{"type":"line","strokeWidth":1.8,"clip":true},"encoding":{"x":{"field":"x","type":"quantitative","scale":{"domain":[-2,2],"nice":false},"axis":{"values":[-2,-1,0,1,2],"format":"d","title":"Δβ₀","tickCount":20}},"y":{"field":"y","type":"quantitative"},"color":{"field":"b","type":"nominal","scale":{"domain":["1.0","2.0","10.0"],"range":["#1f77b4","#ff7f0e","#2ca02c"]},"legend":{"title":"β₀","orient":"top-right"}}}},
{"data":{"name":"curves"},"transform":[{"filter":"datum.p=='21'&&datum.s=='d'"}],"mark":{"type":"line","strokeWidth":1.8,"opacity":0.6,"strokeDash":[6,3.5],"clip":true},"encoding":{"x":{"field":"x","type":"quantitative","axis":{"orient":"top","title":"Maximum growth rate γₘₐₓ ≡ Re(σₘₐₓ)","labels":false,"ticks":false,"domain":false,"titleFontSize":13.5,"titlePadding":8.5,"titleBaseline":"alphabetic"}},"y":{"field":"y","type":"quantitative"},"color":{"field":"b","type":"nominal"}}},
{"data":{"name":"dots"},"transform":[{"filter":"datum.p=='21'"}],"mark":{"type":"circle","size":40,"opacity":0.8,"clip":true},"encoding":{"x":{"field":"x","type":"quantitative","axis":null},"y":{"field":"y","type":"quantitative"},"fill":{"field":"b","type":"nominal","scale":{"domain":["1.0","2.0","10.0"],"range":["#1f77b4","#ff7f0e","#2ca02c"]},"legend":null}}},
{"data":{"name":"refs"},"mark":{"type":"text","align":"left","baseline":"alphabetic","fontSize":12,"color":"#222"},"encoding":{"x":{"datum":-1.6,"axis":null},"y":{"datum":0.104},"text":{"value":"γ∥ = 0.5, γ⊥ = 2.0"}}}
]},
{"width":266,"height":207,"resolve":{"axis":{"x":"independent"}},"layer":[
{"data":{"name":"refs"},"mark":{"type":"rule","color":"#999999","strokeDash":[3,2],"strokeWidth":0.9},"encoding":{"y":{"field":"y","type":"quantitative","scale":{"domain":[0,1.4],"nice":false},"axis":{"values":[0,0.2,0.4,0.6,0.8,1,1.2,1.4],"format":".1f","title":"kₘₐₓ/kₘₐₓᴹᴴᴰ","labelOverlap":false,"tickCount":20}}}},
{"data":{"name":"curves"},"transform":[{"filter":"datum.p=='22'&&datum.s=='s'"}],"mark":{"type":"line","strokeWidth":1.8,"clip":true},"encoding":{"x":{"field":"x","type":"quantitative","scale":{"domain":[-2,2],"nice":false},"axis":{"values":[-2,-1,0,1,2],"format":"d","title":"Δβ₀","tickCount":20}},"y":{"field":"y","type":"quantitative"},"color":{"field":"b","type":"nominal","scale":{"domain":["1.0","2.0","10.0"],"range":["#1f77b4","#ff7f0e","#2ca02c"]},"legend":{"title":"β₀","orient":"top-right"}}}},
{"data":{"name":"curves"},"transform":[{"filter":"datum.p=='22'&&datum.s=='d'"}],"mark":{"type":"line","strokeWidth":1.8,"opacity":0.6,"strokeDash":[6,3.5],"clip":true},"encoding":{"x":{"field":"x","type":"quantitative","axis":{"orient":"top","title":"Maximum wavenumber kₘₐₓ","labels":false,"ticks":false,"domain":false,"titleFontSize":13.5,"titlePadding":8.5,"titleBaseline":"alphabetic"}},"y":{"field":"y","type":"quantitative"},"color":{"field":"b","type":"nominal"}}},
{"data":{"name":"dots"},"transform":[{"filter":"datum.p=='22'"}],"mark":{"type":"circle","size":40,"opacity":0.8,"clip":true},"encoding":{"x":{"field":"x","type":"quantitative","axis":null},"y":{"field":"y","type":"quantitative"},"fill":{"field":"b","type":"nominal","scale":{"domain":["1.0","2.0","10.0"],"range":["#1f77b4","#ff7f0e","#2ca02c"]},"legend":null}}},
{"data":{"name":"refs"},"mark":{"type":"text","align":"left","baseline":"alphabetic","fontSize":12,"color":"#222"},"encoding":{"x":{"datum":-1.6,"axis":null},"y":{"datum":0.097},"text":{"value":"γ∥ = 0.5, γ⊥ = 2.0"}}}
]},
{"width":266,"height":207,"resolve":{"axis":{"x":"independent"}},"layer":[
{"data":{"name":"refs"},"mark":{"type":"rule","color":"#999999","strokeDash":[3,2],"strokeWidth":0.9},"encoding":{"y":{"field":"y","type":"quantitative","scale":{"domain":[0,2.5],"nice":false},"axis":{"values":[0,0.5,1,1.5,2,2.5],"format":".1f","title":"δᵢₙ/δᵢₙᴹᴴᴰ","labelOverlap":false,"tickCount":20}}}},
{"data":{"name":"curves"},"transform":[{"filter":"datum.p=='23'&&datum.s=='s'"}],"mark":{"type":"line","strokeWidth":1.8,"clip":true},"encoding":{"x":{"field":"x","type":"quantitative","scale":{"domain":[-2,2],"nice":false},"axis":{"values":[-2,-1,0,1,2],"format":"d","title":"Δβ₀","tickCount":20}},"y":{"field":"y","type":"quantitative"},"color":{"field":"b","type":"nominal","scale":{"domain":["1.0","2.0","10.0"],"range":["#1f77b4","#ff7f0e","#2ca02c"]},"legend":{"title":"β₀","orient":"top-left"}}}},
{"data":{"name":"curves"},"transform":[{"filter":"datum.p=='23'&&datum.s=='d'"}],"mark":{"type":"line","strokeWidth":1.8,"opacity":0.6,"strokeDash":[6,3.5],"clip":true},"encoding":{"x":{"field":"x","type":"quantitative","axis":{"orient":"top","title":"Inner-layer thickness δᵢₙ","labels":false,"ticks":false,"domain":false,"titleFontSize":13.5,"titlePadding":8.5,"titleBaseline":"alphabetic"}},"y":{"field":"y","type":"quantitative"},"color":{"field":"b","type":"nominal"}}},
{"data":{"name":"dots"},"transform":[{"filter":"datum.p=='23'"}],"mark":{"type":"circle","size":40,"opacity":0.8,"clip":true},"encoding":{"x":{"field":"x","type":"quantitative","axis":null},"y":{"field":"y","type":"quantitative"},"fill":{"field":"b","type":"nominal","scale":{"domain":["1.0","2.0","10.0"],"range":["#1f77b4","#ff7f0e","#2ca02c"]},"legend":null}}},
{"data":{"name":"refs"},"mark":{"type":"text","align":"left","baseline":"alphabetic","fontSize":12,"color":"#222"},"encoding":{"x":{"datum":-1.6,"axis":null},"y":{"datum":0.173},"text":{"value":"γ∥ = 0.5, γ⊥ = 2.0"}}}
]},
{"width":266,"height":207,"resolve":{"axis":{"x":"independent"}},"layer":[
{"data":{"name":"refs"},"mark":{"type":"rule","color":"#999999","strokeDash":[3,2],"strokeWidth":0.9},"encoding":{"y":{"field":"y","type":"quantitative","scale":{"domain":[0,3],"nice":false},"axis":{"values":[0,0.5,1,1.5,2,2.5,3],"format":".1f","title":"γₘₐₓ/γₘₐₓᴹᴴᴰ","labelOverlap":false,"tickCount":20}}}},
{"data":{"name":"curves"},"transform":[{"filter":"datum.p=='31'&&datum.s=='s'"}],"mark":{"type":"line","strokeWidth":1.8,"clip":true},"encoding":{"x":{"field":"x","type":"quantitative","scale":{"domain":[-2,2],"nice":false},"axis":{"values":[-2,-1,0,1,2],"format":"d","title":"Δβ₀","tickCount":20}},"y":{"field":"y","type":"quantitative"},"color":{"field":"b","type":"nominal","scale":{"domain":["1.0","2.0","10.0"],"range":["#1f77b4","#ff7f0e","#2ca02c"]},"legend":{"title":"β₀","orient":"top-right"}}}},
{"data":{"name":"curves"},"transform":[{"filter":"datum.p=='31'&&datum.s=='d'"}],"mark":{"type":"line","strokeWidth":1.8,"opacity":0.6,"strokeDash":[6,3.5],"clip":true},"encoding":{"x":{"field":"x","type":"quantitative","axis":{"orient":"top","title":"Maximum growth rate γₘₐₓ ≡ Re(σₘₐₓ)","labels":false,"ticks":false,"domain":false,"titleFontSize":13.5,"titlePadding":8.5,"titleBaseline":"alphabetic"}},"y":{"field":"y","type":"quantitative"},"color":{"field":"b","type":"nominal"}}},
{"data":{"name":"refs"},"mark":{"type":"text","align":"left","baseline":"alphabetic","fontSize":12,"color":"#222"},"encoding":{"x":{"datum":-1.6,"axis":null},"y":{"datum":0.207},"text":{"value":"γ∥ = 1.0, γ⊥ = 1.0"}}}
]},
{"width":266,"height":207,"resolve":{"axis":{"x":"independent"}},"layer":[
{"data":{"name":"refs"},"mark":{"type":"rule","color":"#999999","strokeDash":[3,2],"strokeWidth":0.9},"encoding":{"y":{"field":"y","type":"quantitative","scale":{"domain":[0,3],"nice":false},"axis":{"values":[0,0.5,1,1.5,2,2.5,3],"format":".1f","title":"kₘₐₓ/kₘₐₓᴹᴴᴰ","labelOverlap":false,"tickCount":20}}}},
{"data":{"name":"curves"},"transform":[{"filter":"datum.p=='32'&&datum.s=='s'"}],"mark":{"type":"line","strokeWidth":1.8,"clip":true},"encoding":{"x":{"field":"x","type":"quantitative","scale":{"domain":[-2,2],"nice":false},"axis":{"values":[-2,-1,0,1,2],"format":"d","title":"Δβ₀","tickCount":20}},"y":{"field":"y","type":"quantitative"},"color":{"field":"b","type":"nominal","scale":{"domain":["1.0","2.0","10.0"],"range":["#1f77b4","#ff7f0e","#2ca02c"]},"legend":{"title":"β₀","orient":"top-right"}}}},
{"data":{"name":"curves"},"transform":[{"filter":"datum.p=='32'&&datum.s=='d'"}],"mark":{"type":"line","strokeWidth":1.8,"opacity":0.6,"strokeDash":[6,3.5],"clip":true},"encoding":{"x":{"field":"x","type":"quantitative","axis":{"orient":"top","title":"Maximum wavenumber kₘₐₓ","labels":false,"ticks":false,"domain":false,"titleFontSize":13.5,"titlePadding":8.5,"titleBaseline":"alphabetic"}},"y":{"field":"y","type":"quantitative"},"color":{"field":"b","type":"nominal"}}},
{"data":{"name":"refs"},"mark":{"type":"text","align":"left","baseline":"alphabetic","fontSize":12,"color":"#222"},"encoding":{"x":{"datum":-1.6,"axis":null},"y":{"datum":0.207},"text":{"value":"γ∥ = 1.0, γ⊥ = 1.0"}}}
]},
{"width":266,"height":207,"resolve":{"axis":{"x":"independent"}},"layer":[
{"data":{"name":"refs"},"mark":{"type":"rule","color":"#999999","strokeDash":[3,2],"strokeWidth":0.9},"encoding":{"y":{"field":"y","type":"quantitative","scale":{"domain":[0,2.5],"nice":false},"axis":{"values":[0,0.5,1,1.5,2,2.5],"format":".1f","title":"δᵢₙ/δᵢₙᴹᴴᴰ","labelOverlap":false,"tickCount":20}}}},
{"data":{"name":"curves"},"transform":[{"filter":"datum.p=='33'&&datum.s=='s'"}],"mark":{"type":"line","strokeWidth":1.8,"clip":true},"encoding":{"x":{"field":"x","type":"quantitative","scale":{"domain":[-2,2],"nice":false},"axis":{"values":[-2,-1,0,1,2],"format":"d","title":"Δβ₀","tickCount":20}},"y":{"field":"y","type":"quantitative"},"color":{"field":"b","type":"nominal","scale":{"domain":["1.0","2.0","10.0"],"range":["#1f77b4","#ff7f0e","#2ca02c"]},"legend":{"title":"β₀","orient":"top-left"}}}},
{"data":{"name":"curves"},"transform":[{"filter":"datum.p=='33'&&datum.s=='d'"}],"mark":{"type":"line","strokeWidth":1.8,"opacity":0.6,"strokeDash":[6,3.5],"clip":true},"encoding":{"x":{"field":"x","type":"quantitative","axis":{"orient":"top","title":"Inner-layer thickness δᵢₙ","labels":false,"ticks":false,"domain":false,"titleFontSize":13.5,"titlePadding":8.5,"titleBaseline":"alphabetic"}},"y":{"field":"y","type":"quantitative"},"color":{"field":"b","type":"nominal"}}},
{"data":{"name":"refs"},"mark":{"type":"text","align":"left","baseline":"alphabetic","fontSize":12,"color":"#222"},"encoding":{"x":{"datum":-1.6,"axis":null},"y":{"datum":0.173},"text":{"value":"γ∥ = 1.0, γ⊥ = 1.0"}}}
]}
],
"config":{
"font":"DejaVu Serif",
"view":{"stroke":"#000000","strokeWidth":1},
"axis":{"labelFont":"DejaVu Serif","titleFont":"DejaVu Serif","labelFontSize":10.5,"titleFontSize":12,"titleFontWeight":"normal","labelColor":"#000","titleColor":"#000","domain":false,"grid":false,"ticks":true,"tickColor":"#000","tickSize":3.5,"labelPadding":2,"titlePadding":4,"labelFlush":false,"labelOverlap":false},
"axisBottom":{"titlePadding":7},
"title":{"font":"DejaVu Serif","fontSize":13.5,"fontWeight":"normal","color":"#000"},
"legend":{"fillColor":"#ffffff","strokeColor":"#cccccc","cornerRadius":3,"padding":5,"offset":4,"labelFont":"DejaVu Serif","labelFontSize":9.5,"labelColor":"#000","titleFont":"DejaVu Serif","titleFontSize":10,"titleFontWeight":"normal","titleColor":"#000","titleAnchor":"middle","symbolType":"stroke","symbolStrokeWidth":2,"symbolSize":300,"symbolOpacity":1,"labelOffset":7,"rowPadding":0}
}
}
